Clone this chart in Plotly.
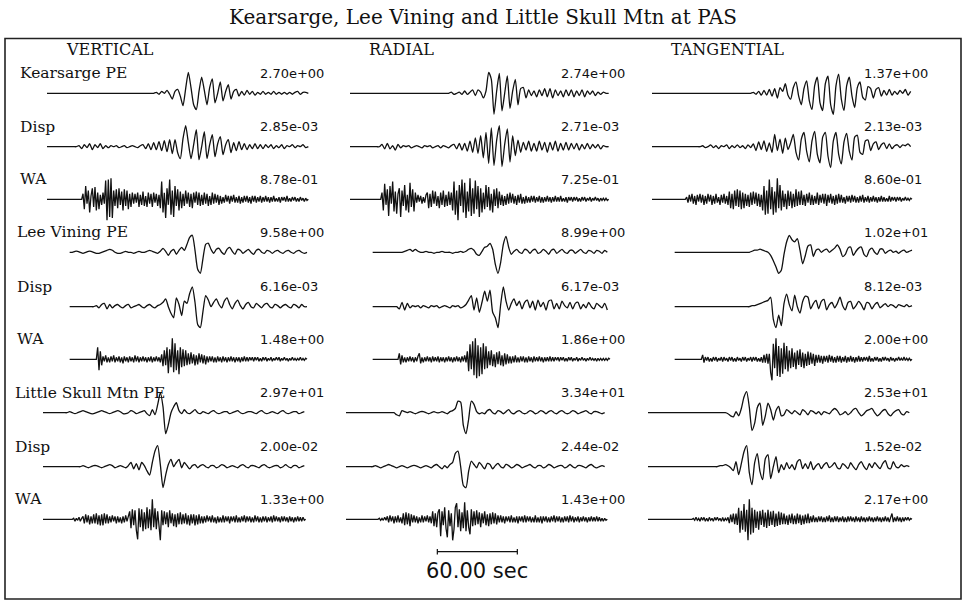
import plotly.graph_objects as go

# ---------------- data ----------------
TITLE = "Kearsarge, Lee Vining and Little Skull Mtn at PAS"
COMPONENTS = ["VERTICAL", "RADIAL", "TANGENTIAL"]
ROW_LABELS = ["Kearsarge PE", "Disp", "WA",
              "Lee Vining PE", "Disp", "WA",
              "Little Skull Mtn PE", "Disp", "WA"]
# peak amplitudes printed above each trace: rows x [vertical, radial, tangential]
PEAK_VALUES = [
    [2.70e+00, 2.74e+00, 1.37e+00],
    [2.85e-03, 2.71e-03, 2.13e-03],
    [8.78e-01, 7.25e-01, 8.60e-01],
    [9.58e+00, 8.99e+00, 1.02e+01],
    [6.16e-03, 6.17e-03, 8.12e-03],
    [1.48e+00, 1.86e+00, 2.00e+00],
    [2.97e+01, 3.34e+01, 2.53e+01],
    [2.00e-02, 2.44e-02, 1.52e-02],
    [1.33e+00, 1.43e+00, 2.17e+00],
]
# start time (s) of each station's window; sample interval (s) for PE, Disp, WA
STATION_T0 = [3.0, 20.0, 0.0]
KIND_DT = [2.0, 2.0, 1.0]
SCALE_SEC = 60.0
SCALE_START = 68.5

# relative amplitudes (each trace is normalised to its own peak)
# ---- VERTICAL ----
ks_pe_z = [0,0,0,0,0,0,0,0,0,0, 0,0,0,0,0,0,0,0,0,0, 0,0,0,0,0,0,0,0,0,0, 0,0,0,0,0,0,0,0,0,0, 0,
           1,-1,2,0,3,-1,-6,2,4,-3, -13,5,22,6,-12,-17,2,17,3,-12, 6,15,-10,0,12,-8,2,9,-6,2,
           4,-3,2,-2,3,-1,2,-2,1,-1, 2,-1,1,-1,2,-1,1,-1,1,-1, 1,-1,1,2,-1,1,1,0]
ks_disp_z = [0,0,0,0,0,0,0,0,0,0,0,0,
             1,-2,2,-1,3,-3,2,-1,3,-2,1,-1,1,
             0,1,-1,0,1,-1,0,1,0,-1,1,
             2,-2,3,-3,4,-3,5,-4,
             6,-5,7,-7,7,-6,
             -12,8,21,4,-12,2,17,-13,0,15,-12,2,12,-10,3,10,-8,2,7,-6,4,-4,5,-3,3,
             -3,2,-2,3,-2,2,-2,2,-1,2,-2,1,-1,2,-2,1,0,2,-1,1,0,2,-1,0]
ks_wa_z = [0,0,0,0,0,0,0,0,0,0, 0,0,0,0,0,0,0,0,0,0, 0,0,0,0,0,0,0,
           5,-9,12,-4,8,-12,3,10,-7,11,-10,6,-9,4,
           -5,6,-4,
           17,-19,18,-16,19,-17,
           8,-6,9,
           -8,10,-5,7,-10,9,-6,8,-9,5,-7,6,
           -4,5,-3,
           6,-7,4,-5,7,-6,3,-7,6,-4,5,-7,6,-3,5,-6,4,
           -8,16,-12,6,-17,10,-5,18,-14,8,-16,12,-6,9,-10,
           7,-8,5,-6,8,-4,6,-7,5,-8,6,-3,7,-5,6,-6,4,-5,6,-4,5,-6,3,-5,6,-4,5,-3,4,-5,
           3,-4,2,-3,4,-2,3,-4,3,-2,4,-3,2,-3,3,-4,2,-3,3,-2,3,-3,2,-4,3,-2,3,-3,2,-2,
           3,-3,2,-2,3,-2,2,-3,2,-2,3,-2,1,-2,2,-3,2,-1,2,-2,3,-2,1,-2,2,-1,2,-2,1,-2,
           2,-1,1,-2,1,-1,0]
lv_pe_z = [0,0,1,1,0,-1,0,1,1,0,-1,-1,0,1,2,3,2,0,-1,-1,0,1,0,0,-1,0,1,0,0,1,2,1,0,
           -1,1,4,1,-3,1,3,-2,2,5,2,8,15,17,2,-17,-21,-6,8,9,3,-1,3,4,0,-2,3,5,1,-2,
           3,2,-1,1,3,0,-2,2,3,0,-1,2,1,-1,1,2,0,-1,1,2,0,-1,1,2,0,-1,0]
lv_disp_z = [0,0,0,0,0,0,0,0,0,0,
             1,-1,2,3,-2,2,-1,1,2,0,-1,1,2,-1,0,1,2,0,-1,1,2,0,-1,1,
             2,4,7,0,-6,-10,8,2,-8,5,3,12,18,4,-16,-19,-4,10,6,0,4,7,2,-1,5,8,2,-2,3,6,
             1,-2,2,4,0,-1,3,1,-1,2,3,0,-1,2,1,-1,1,2,0,-1,2,1,-1,2,0,0]
lv_wa_z = [0,0,0,0,0,0,0,0,0,0, 0,0,0,0,0,0,0,0,0,0, 0,
           12,-11,8,-6,
           3,-2,4,-3,2,-3,3,-2,4,-3,2,-2,3,-3,2,-4,3,-2,2,-3,3,-2,2,-3,4,-2,3,-3,2,-2,
           3,-2,2,-3,2,-2,3,-3,2,-2,3,-2,2,-3,
           5,-7,9,-6,12,-14,10,-8,21,-13,16,-11,9,-15,12,-8,10,-7,9,-6,
           6,-5,7,-4,5,-6,4,-5,6,-3,5,-4,4,-5,3,
           -3,3,-2,3,-3,2,-3,3,-2,2,-3,3,-2,2,-3,2,-2,3,-2,2,-3,2,-2,2,-3,2,-2,3,-2,2,
           -2,2,-1,2,-2,2,-1,2,-2,1,-2,2,-1,2,-2,1,-1,2,-2,1,-1,2,-1,2,-2,1,-1,2,-1,1,
           -2,1,-1,2,-1,1,-1,1,-1,2,-1,1,-1,1,0]
ls_pe_z = [0,0,0,0,0,0,0,0,0,0,
           1,0,-1,0,1,2,1,0,-1,-1,0,1,2,1,0,-1,0,1,2,1,-1,-1,0,2,1,-1,0,1,
           2,-1,-3,3,-2,8,20,6,-21,-12,0,6,10,2,-1,3,0,-1,1,3,0,-1,
           1,0,-1,1,2,0,-1,0,1,1,-1,0,1,2,0,-1,0,1,1,0,-1,1,2,0,-1,0,1,0,-1,1,2,0,-1,0,1,1,-1,0,1]
ls_disp_z = [0,0,0,0,0,0,0,0,0,0,0,0,0,0,0,
             1,0,-1,0,1,1,0,-1,0,1,2,1,-1,0,1,0,-1,
             1,4,-2,3,-3,4,1,-4,-8,4,15,20,2,-20,-8,2,7,0,4,7,-1,4,1,-2,1,2,
             -1,1,2,0,-1,1,1,-1,0,2,1,-1,0,1,0,-1,1,2,0,-1,1,1,0,-1,1,2,0,-1,0,1,1,-1,0,2,0,-1,1,1,-1,0,1]
ls_wa_z = [0,0,0,0,0,0,0,0,0,0, 0,0,0,0,0,0,0,0,0,0, 0,0,0,
           1,-2,1,-1,2,-2,1,
           3,-4,5,-3,4,-5,3,-4,5,-4,6,-5,4,-6,5,-6,6,-4,5,
           -4,3,-3,4,-2,3,-4,3,-3,2,-4,3,-3,4,-2,3,
           8,-9,10,-6,9,-11,-20,11,-8,10,-12,7,-10,
           12,-9,10,-11,20,-8,11,-10,8,-12,-21,
           9,-6,8,-5,7,-8,9,-4,6,-7,5,-8,6,-5,7,
           -5,5,-4,6,-5,4,-6,5,-4,5,-6,4,-5,5,-4,
           3,-4,3,-3,4,-2,3,-3,4,-3,2,-4,3,-3,2,-3,4,-3,3,-2,3,-4,3,-2,3,-3,4,-3,2,-3,
           3,-2,4,-3,3,-2,3,-3,2,-3,4,-2,3,-3,2,-3,3,-2,3,-3,2,-2,3,-3,4,-2,3,-2,2,-3,
           3,-2,3,-2,2,-3,3,-2,2,-3,2,-2,3,-2,2,-2,2,-1,0]

# ---- RADIAL ----
ks_pe_r = [0,0,0,0,0,0,0,0,0,0, 0,0,0,0,0,0,0,0,0,0, 0,0,0,0,0,0,0,0,0,0, 0,0,0,0,0,0,0,0,
           1,-1,0,1,-1,2,-1,1,3,
           -2,3,1,-4,2,18,12,-18,2,17,-15,0,15,-13,2,12,-10,4,5,-4,3,-2,2,-3,3,
           -2,4,-3,4,-4,3,-2,2,-3,3,-2,3,-3,2,-2,3,-3,2,-1,2,-2,1,-1,1,0,0]
ks_disp_r = [0,0,0,0,0,0,0,0,0,0,0,0,
             2,-2,3,-2,1,-3,2,-1,1,
             0,1,-1,0,1,0,-1,1,0,1,-1,0,1,-1,1,0,-1,1,
             2,-2,3,-3,3,-4,5,
             -5,8,-6,10,-10,13,-15,17,-17,6,19,-18,2,16,-14,10,-8,6,-5,4,-3,5,-4,3,-4,
             5,-3,4,-5,4,-3,5,-4,3,-3,4,-3,3,-2,3,-3,2,-2,3,-2,2,-1,2,-2,1,0,0]
ks_wa_r = [0,0,0,0,0,0,0,0,0,0, 0,0,0,0,0,0,0,0,0,0, 0,0,0,0,
           6,-10,14,-5,9,-15,12,-4,16,-11,7,-13,5,10,-16,8,-6,13,-10,4,-12,15,-7,9,-11,6,
           -3,4,-2,3,-4,2,-3,4,
           6,-8,5,-7,8,-4,7,-6,3,-8,6,-5,8,-7,4,-6,7,-5,6,
           -10,16,-14,8,-19,13,-6,18,-12,15,-17,7,-11,19,-15,10,-13,17,-9,12,-16,
           10,-12,6,-9,13,-7,11,-10,5,-12,9,-6,10,-8,7,
           -5,4,-6,3,-5,5,-4,6,-3,5,-4,3,-5,4,-3,5,-4,2,-4,3,
           -3,2,-3,3,-2,3,-3,2,-2,3,-3,2,-3,2,-2,3,-2,2,-3,2,-2,3,-2,2,-2,3,-2,1,-2,2,
           -3,2,-1,2,-2,2,-1,2,-2,1,-2,2,-1,2,-2,1,-1,2,-2,1,-1,2,-1,1,-2,1,-1,1,-1,1,
           -1,0]
lv_pe_r = [0,0,0,0,0,0,0,0,0,0,0,0,
           1,2,3,1,3,1,
           0,0,1,0,0,-1,0,0,1,0,0,0,-1,0,0,1,0,1,
           3,4,2,-2,-3,1,5,6,9,3,-12,-21,-10,8,16,5,-2,1,3,0,-1,3,2,-1,2,3,-1,0,3,1,
           -2,2,3,-1,1,3,0,-1,2,2,-1,1,3,0,-1,2,1,-1,2,1,-1,2,0]
lv_disp_r = [0,0,0,0,0,0,0,0,0,0,
             -2,4,-3,3,-1,1,
             0,1,-1,1,0,-1,1,0,1,-1,0,1,0,-1,1,0,1,-1,0,2,
             6,10,-3,8,-5,4,14,5,15,-5,-10,-19,2,18,5,-3,3,7,1,5,-2,4,6,-1,5,-3,6,0,4,-3,
             5,6,-2,3,-2,5,1,-1,4,-2,3,4,-2,2,-1,4,0,-2,3,1,-1,3,-3]
lv_wa_r = [0,0,0,0,0,0,0,0,0,0, 0,0,0,0,0,0,0,0,0,0,
           6,-5,4,-3,
           2,-3,2,-2,3,-2,2,-3,2,-2,3,6,-4,2,-3,2,-2,3,-2,2,-3,3,-2,2,-2,3,-3,2,-2,2,
           -3,2,-2,3,-2,2,-3,2,-2,3,-2,2,-3,3,-2,4,-3,
           8,-12,15,-10,18,-16,21,-19,14,-17,12,-15,16,-10,13,-9,
           8,-6,9,-7,5,-8,7,-5,8,-6,4,-7,6,-5,5,
           -4,3,-4,3,-3,4,-3,2,-3,3,-2,3,-3,2,-3,3,-2,2,-3,3,-2,2,-2,3,-2,2,-3,2,-2,2,
           -2,3,-2,2,-2,2,-1,2,-2,2,-1,2,-2,1,-2,2,-1,2,-2,1,-1,2,-2,1,-1,2,-1,1,-2,1,
           -1,2,-1,1,-1,1,-2,1,-1,1,-1,1,-1,1,-1,1,0]
ls_pe_r = [0,0,0,0,0,0,0,0,0,0,0,0,0,0,0,0,0,0,0,
           -2,-3,2,1,
           0,1,0,-1,0,1,1,0,-1,0,1,0,0,1,0,-1,1,
           2,4,11,10,-12,-20,-6,11,8,1,-1,0,-1,2,3,0,-1,2,1,-1,1,3,0,
           -1,1,2,0,-1,0,2,1,-1,0,2,1,-1,1,2,0,-1,1,2,0,-1,0,2,1,-1,0,1,2,0,-1,1,1,0,-1,0]
ls_disp_r = [0,0,0,0,0,0,0,0,0,0,0,
             1,0,-1,0,1,2,1,0,-1,0,1,0,-1,0,1,1,0,-1,0,1,0,-1,1,2,0,-2,1,-1,
             2,4,12,14,0,-17,-19,-4,5,2,-1,4,1,-2,3,2,-2,1,3,0,
             -1,2,1,-1,0,2,1,-1,0,1,2,0,-1,1,1,-1,0,2,1,-1,0,1,1,-1,0,2,0,-1,1,1,0,-1,1,2,0,-1,0,1,0]
ls_wa_r = [0,0,0,0,0,0,0,0,0,0, 0,0,0,0,0,0,0,0,0,0, 0,0,0,0,0,
           1,-1,1,-1,2,-1,
           3,-3,4,-2,3,-4,3,-3,4,-3,2,-4,
           6,-6,7,-5,6,-7,5,
           -3,4,-3,3,-4,2,-3,4,-3,3,-2,4,-3,3,-4,
           8,-7,6,-8,7,
           10,-17,8,-6,12,-9,-18,9,-7,6,-21,-10,12,16,-8,10,-12,7,-9,17,-12,9,-8,-15,10,
           -7,8,-6,9,-5,7,-8,6,-4,8,-6,5,-7,6,-5,7,-4,6,-5,4,
           -3,4,-3,3,-4,3,-2,3,-3,4,-3,2,-3,3,-4,3,-2,3,-3,4,-3,3,-2,3,-3,2,-3,4,-3,2,
           -3,3,-4,3,-2,3,-3,2,-3,3,-2,4,-3,3,-2,3,-3,2,-3,3,-2,3,-3,4,-2,3,-3,2,-2,3,
           -3,2,-2,3,-2,2,-3,2,-2,3,-2,2,-2,3,-2,2,-2,1,-2,1,-1,0]

# ---- TANGENTIAL ----
ks_pe_t = [0,0,0,0,0,0,0,0,0,0, 0,0,0,0,0,0,0,0,0,0, 0,0,0,0,0,0,0,0,0,0, 0,0,0,0,0,0,0,0,
           1,-1,2,-2,3,-2,
           4,-3,5,-5,6,
           2,10,-2,-6,6,12,-3,-12,5,13,-8,-17,8,17,-10,-18,10,18,-12,-22,8,20,-6,-18,8,
           17,-3,-15,6,12,-4,-7,7,5,-5,4,6,-3,3,-2,4,-2,2,-1,3,0,4,-2,2]
ks_disp_t = [0,0,0,0,0,0,0,0,0,0,0,0,0,0,0,0,0,0,0,
             1,-1,0,2,-1,1,-2,1,0,2,-2,1,-1,2,-1,1,-2,2,-1,
             3,-4,5,-3,6,-5,4,-6,
             13,-4,8,-7,9,-3,4,13,-6,-14,8,15,-5,-16,6,16,-8,-17,10,15,-10,-22,6,15,-8,
             -18,5,14,-5,-14,10,12,-6,-8,6,7,-4,3,5,-3,2,4,-2,3,-2,1,2,-1,2,1,3,0]
ks_wa_t = [0,0,0,0,0,0,0,0,0,0, 0,0,0,0,0,0,0,0,0,0, 0,0,0,0,0,0,
           2,-3,4,-2,5,-4,3,-5,4,-2,5,-3,4,-5,3,-4,5,-2,4,-5,3,-4,5,-3,2,-5,4,-3,5,-4,3,-5,
           7,-8,5,-9,8,-6,9,-7,8,-9,6,-8,
           5,-6,4,-7,6,-5,7,-4,6,-6,5,-7,4,
           -10,12,-14,8,-13,18,-9,11,-14,7,-12,19,-8,13,-10,
           8,-7,5,-9,8,-6,7,-8,5,-7,9,-6,7,-5,8,
           -5,4,-6,5,-3,6,-5,4,-5,3,-4,6,-5,4,-3,5,-4,5,-6,4,-3,5,-4,3,-5,4,-4,5,-3,4,
           -3,2,-4,3,-2,3,-3,4,-2,3,-3,2,-3,3,-2,4,-3,2,-2,3,-3,2,-2,3,-2,2,-3,2,-2,3,
           -2,2,-2,1,-2,3,-2,2,-1,2,-2,2,-1,2,-2,1,-1,2,-1,1,-1,1,0]
lv_pe_t = [0,0,0,0,0,0,0,0,0,0, 0,0,0,0,0,0,0,0,0,0, 0,0,0,0,0,0,0,0,0,
           1,2,2,3,2,1,
           0,-3,-8,-14,-20,-17,-2,10,16,12,10,13,2,-11,-3,6,7,-4,2,3,0,2,3,0,2,
           4,7,3,-4,-2,4,5,-3,1,4,5,-2,-4,2,4,0,-2,3,3,-1,1,2,0,1,-1,1,2,0,1,2]
lv_disp_t = [0,0,0,0,0,0,0,0,0,0, 0,0,0,0,0,0,0,0,0,0, 0,0,0,0,0,0,0,0,0,
             1,1,2,3,4,5,
             6,9,-12,-20,-8,-18,3,12,2,-4,11,0,-6,5,10,9,-2,3,6,-2,5,7,-3,2,4,
             -1,3,9,1,-3,4,5,-2,1,5,2,-3,4,3,-2,2,4,-1,1,3,0,2,1,-1,2,1,0,2,0,1]
lv_wa_t = [0,0,0,0,0,0,0,0,0,0, 0,0,0,0,0,0,0,0,0,0, 0,
           4,-3,2,
           -1,2,-2,1,-2,2,-1,2,-2,1,-1,2,-2,2,-1,1,-2,2,-1,2,-2,1,-2,2,-1,1,-2,2,-1,2,
           -2,1,-1,2,-2,2,-1,2,-2,1,-2,2,
           -3,4,-3,5,-4,5,
           -12,-19,14,-8,19,-15,12,-16,10,-13,15,-9,12,-11,8,
           -8,10,-7,6,-9,8,-5,9,-7,6,-8,5,-6,7,-5,6,-4,5,-6,4,
           -3,4,-3,3,-4,3,-2,3,-3,4,-2,3,-3,2,-3,3,-2,3,-3,2,-2,3,-3,2,-2,3,-2,2,-3,2,
           -2,3,-2,2,-2,2,-1,2,-2,3,-2,1,-2,2,-1,2,-2,1,-2,2,-1,2,-1,1,-2,2,-1,1,-2,1,
           -1,2,-1,1,-1,2,-1,1,-1,1,-1,0]
ls_pe_t = [0,0,0,0,0,0,0,0,0,0, 0,0,0,0,0,0,0,0,0,0, 0,0,0,0,0,0,0,0,0,
           0,-1,-3,-4,1,-3,4,15,20,5,-17,-10,5,9,-12,-3,9,3,-7,2,6,-3,-2,3,1,
           -1,2,0,-2,3,1,-2,2,1,-1,1,-2,1,0,-1,2,4,2,-2,-1,1,-2,0,3,4,
           0,-3,-1,2,3,4,0,-3,-1,2,3,-1,-3,0,2,3,-1,-2,1,0]
ls_disp_t = [0,0,0,0,0,0,0,0,0,0, 0,0,0,0,0,0,0,0,0,0, 0,0,0,0,0,0,
             0,1,1,2,1,-1,
             -4,5,-8,3,15,21,-6,-18,4,13,-5,-13,8,12,-12,0,10,-6,2,-3,4,-2,2,-3,5,
             7,-2,3,-2,5,-3,1,3,-2,2,4,-1,1,4,-1,-2,3,1,-2,4,0,-3,2,5,0,
             -3,3,-1,4,1,-2,3,6,-1,-2,5,0,-1,2,0,1,0]
ls_wa_t = [0,0,0,0,0,0,0,0,0,0, 0,0,0,0,0,0,0,0,0,0, 0,0,0,0,0,0,0,0,0,0, 0,0,0,0,
           1,-1,2,-1,1,-2,2,-1,2,-2,1,-2,2,-1,1,-2,2,-1,2,-1,1,-2,2,-2,1,-1,2,
           -4,5,-3,6,-5,6,-6,
           12,-14,9,-11,16,-13,10,-22,21,-16,12,-14,
           10,-9,8,-11,9,-6,10,-8,7,-9,10,-7,8,-6,9,-8,6,-7,8,-6,7,-5,
           6,-5,4,-6,5,-4,6,-5,4,-5,6,-4,5,-6,4,-5,5,-4,6,-4,
           3,-3,4,-3,2,-3,3,-2,3,-3,2,-3,3,-2,4,-3,2,-3,3,-2,3,-3,2,-2,3,-3,2,-3,3,-2,
           3,-2,2,-3,3,-2,2,-3,3,-2,2,-3,2,-2,3,-2,2,-3,2,-2,3,-2,2,-3,2,-2,3,-2,2,-3,
           2,6,-3,2,-2,3,-2,2,-3,2,-2,2,-1,2,-1,1,0]

WAVES = [
    [ks_pe_z, ks_pe_r, ks_pe_t],
    [ks_disp_z, ks_disp_r, ks_disp_t],
    [ks_wa_z, ks_wa_r, ks_wa_t],
    [lv_pe_z, lv_pe_r, lv_pe_t],
    [lv_disp_z, lv_disp_r, lv_disp_t],
    [lv_wa_z, lv_wa_r, lv_wa_t],
    [ls_pe_z, ls_pe_r, ls_pe_t],
    [ls_disp_z, ls_disp_r, ls_disp_t],
    [ls_wa_z, ls_wa_r, ls_wa_t],
]

# ---------------- layout (pixels of the 966 x 605 page) ----------------
W, H = 966, 605
COL_LEFT = [43, 346, 648]          # left pixel of each column's time axis
PX_PER_SEC = 4.0 / 3.0
X_SPAN = 200.0                      # seconds covered by each column axis
BASELINES = [93.3, 146.7, 199.3, 252.3, 306.7, 359.3, 412.7, 466.7, 519.3]
HALF = 26.5                         # half height of each row axis (px)
AMP_PX = 21.0                       # pixels for a normalised amplitude of 1
LABEL_X = [18, 18, 18, 15, 15, 15, 13, 13, 13]
VALUE_X = [258, 559, 862]
HEADER_X = [110, 401, 727]
INK = "#111111"
SERIF = "DejaVu Serif"
SANS = "DejaVu Sans"


def px(xp):
    return xp / W


def py(yp):
    return 1 - yp / H


fig = go.Figure()
axes = {}
R = HALF / AMP_PX
for r in range(9):
    for c in range(3):
        n = r * 3 + c + 1
        sfx = "" if n == 1 else str(n)
        vals = WAVES[r][c]
        peak = max(abs(v) for v in vals)
        t0 = STATION_T0[r // 3]
        kind = r % 3
        dt = KIND_DT[kind]
        xs = [t0 + dt * i for i in range(len(vals))]
        ys = [v / peak for v in vals]
        line = dict(color=INK, width=1.3)
        if kind < 2:
            line.update(shape="spline", smoothing=0.6)
        fig.add_trace(go.Scatter(
            x=xs, y=ys, mode="lines", line=line,
            xaxis="x" + sfx, yaxis="y" + sfx,
            hoverinfo="skip", showlegend=False))
        b = BASELINES[r]
        axes["xaxis" + sfx] = dict(
            domain=[px(COL_LEFT[c]), px(COL_LEFT[c] + X_SPAN * PX_PER_SEC)],
            range=[0, X_SPAN], visible=False, fixedrange=True, anchor="y" + sfx)
        axes["yaxis" + sfx] = dict(
            domain=[py(b + HALF), py(b - HALF)],
            range=[-R, R], visible=False, fixedrange=True, anchor="x" + sfx)

annotations = [dict(text=TITLE, x=px(483), y=py(17), xref="paper", yref="paper",
                    xanchor="center", yanchor="middle", showarrow=False,
                    font=dict(family=SERIF, size=20, color=INK))]
for c, name in enumerate(COMPONENTS):
    annotations.append(dict(text=name, x=px(HEADER_X[c]), y=py(50), xref="paper", yref="paper",
                            xanchor="center", yanchor="middle", showarrow=False,
                            font=dict(family=SERIF, size=16, color=INK)))
for r in range(9):
    yl = py(BASELINES[r] - 20)
    annotations.append(dict(text=ROW_LABELS[r], x=px(LABEL_X[r]), y=yl, xref="paper", yref="paper",
                            xanchor="left", yanchor="middle", showarrow=False,
                            font=dict(family=SERIF, size=15.5, color=INK)))
    for c in range(3):
        annotations.append(dict(text=f"{PEAK_VALUES[r][c]:.2e}", x=px(VALUE_X[c]), y=yl,
                                xref="paper", yref="paper", xanchor="left", yanchor="middle",
                                showarrow=False, font=dict(family=SANS, size=13, color=INK)))

scale_axis = "x" + str(8 * 3 + 2)
annotations.append(dict(text=f"{SCALE_SEC:.2f} sec", x=SCALE_START + SCALE_SEC / 2, y=py(571),
                        xref=scale_axis, yref="paper", xanchor="center", yanchor="middle",
                        showarrow=False, font=dict(family=SANS, size=21, color=INK)))

shapes = [
    dict(type="rect", xref="paper", yref="paper", x0=px(5), x1=px(961), y0=py(599), y1=py(38.5),
         line=dict(color="#222222", width=1.6)),
    dict(type="line", xref=scale_axis, yref="paper", x0=SCALE_START, x1=SCALE_START + SCALE_SEC,
         y0=py(551.7), y1=py(551.7), line=dict(color=INK, width=1.2)),
    dict(type="line", xref=scale_axis, yref="paper", x0=SCALE_START, x1=SCALE_START,
         y0=py(549), y1=py(554.5), line=dict(color=INK, width=1.2)),
    dict(type="line", xref=scale_axis, yref="paper", x0=SCALE_START + SCALE_SEC,
         x1=SCALE_START + SCALE_SEC, y0=py(549), y1=py(554.5), line=dict(color=INK, width=1.2)),
]

fig.update_layout(
    width=W, height=H, margin=dict(l=0, r=0, t=0, b=0),
    paper_bgcolor="white", plot_bgcolor="white",
    showlegend=False, annotations=annotations, shapes=shapes, **axes)

fig.write_html("out.html", config={"displayModeBar": False})
